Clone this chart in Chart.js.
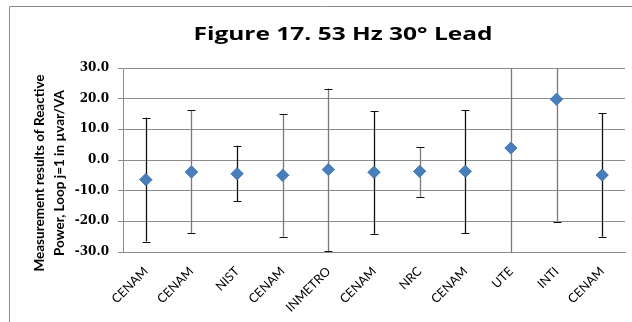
<!DOCTYPE html>
<html>
<head>
<meta charset="utf-8">
<script src="https://cdn.jsdelivr.net/npm/chart.js@4/dist/chart.umd.min.js"></script>
<style>
  html, body { margin: 0; padding: 0; background: #fff; }
  #wrap { width: 632px; height: 322px; position: relative; }
</style>
</head>
<body>
<div id="wrap"><canvas id="c" width="632" height="322"></canvas></div>
<script>
const categories = ['CENAM','CENAM','NIST','CENAM','INMETRO','CENAM','NRC','CENAM','UTE','INTI','CENAM'];
const values     = [-6.4, -3.9, -4.5, -5.0, -3.1, -4.0, -3.7, -3.7, 3.9, 19.8, -4.9];
const upperBound = [13.8, 16.3, 4.7, 14.9, 23.3, 16.0, 4.3, 16.3, 43.9, 59.6, 15.2];
const lowerBound = [-26.6, -23.9, -13.5, -25.0, -29.7, -24.1, -12.0, -23.9, -36.1, -20.1, -25.0];
const yTicks     = [-30, -20, -10, 0, 10, 20, 30];
const titleText  = 'Figure 17. 53 Hz 30° Lead';
const yTitleLines = ['Measurement results of Reactive', 'Power, Loop j=1 in µvar/VA'];

const barLineColors = ['#111','#7a7a7a','#111','#7a7a7a','#7a7a7a','#111','#7a7a7a','#111','#7a7a7a','#7a7a7a','#111'];

const frame = {
  id: 'frame',
  beforeDraw(chart) {
    const ctx = chart.ctx;
    ctx.save();
    ctx.fillStyle = '#fff';
    ctx.fillRect(0, 0, chart.width, chart.height);
    ctx.strokeStyle = '#8c8c8c';
    ctx.lineWidth = 1;
    ctx.beginPath();
    ctx.moveTo(9.5, chart.height);
    ctx.lineTo(9.5, 6.5);
    ctx.lineTo(chart.width, 6.5);
    ctx.stroke();
    ctx.restore();
  },
  afterDraw(chart) {
    const ctx = chart.ctx;
    // title (Calibri-like wide bold)
    ctx.save();
    ctx.fillStyle = '#000';
    ctx.font = 'bold 18px "Open Sans"';
    ctx.textAlign = 'center';
    ctx.textBaseline = 'alphabetic';
    const w = ctx.measureText(titleText).width;
    const sx = 299 / w;
    ctx.translate(343, 40);
    ctx.scale(sx, 1);
    ctx.fillText(titleText, 0, 0);
    ctx.restore();
    // y-axis title, two rotated lines
    ctx.save();
    ctx.fillStyle = '#000';
    ctx.font = 'bold 13.5px Lato';
    ctx.textAlign = 'center';
    ctx.textBaseline = 'middle';
    ctx.translate(0, 173);
    ctx.rotate(-Math.PI / 2);
    ctx.fillText(yTitleLines[0], 0, 40);
    ctx.fillText(yTitleLines[1], 0, 60);
    ctx.restore();
  }
};

const errorBars = {
  id: 'errorBars',
  afterDatasetsDraw(chart) {
    const ctx = chart.ctx;
    const x = chart.scales.x, y = chart.scales.y;
    const a = chart.chartArea;
    ctx.save();
    ctx.beginPath();
    ctx.rect(a.left, a.top, a.right - a.left, a.bottom - a.top + 1);
    ctx.clip();
    for (let i = 0; i < categories.length; i++) {
      const px = Math.round(x.getPixelForValue(i)) + 0.5;
      const yt = y.getPixelForValue(upperBound[i]);
      const yb = y.getPixelForValue(lowerBound[i]);
      ctx.strokeStyle = barLineColors[i];
      ctx.lineWidth = 1.3;
      ctx.beginPath();
      ctx.moveTo(px, yt);
      ctx.lineTo(px, yb);
      ctx.stroke();
      ctx.strokeStyle = '#111';
      ctx.lineWidth = 1.2;
      ctx.beginPath();
      ctx.moveTo(px - 4, Math.round(yt) + 0.5);
      ctx.lineTo(px + 4, Math.round(yt) + 0.5);
      ctx.moveTo(px - 4, Math.round(yb) + 0.5);
      ctx.lineTo(px + 4, Math.round(yb) + 0.5);
      ctx.stroke();
    }
    ctx.restore();
    const meta = chart.getDatasetMeta(0);
    meta.data.forEach(el => el.draw(ctx, a));
  }
};

new Chart(document.getElementById('c'), {
  type: 'line',
  data: {
    labels: categories,
    datasets: [{
      data: values,
      showLine: false,
      pointStyle: 'rectRot',
      pointRadius: 6,
      pointHoverRadius: 6,
      pointBackgroundColor: '#4A7EBB',
      pointBorderColor: '#4A7EBB',
      pointBorderWidth: 1
    }]
  },
  options: {
    responsive: false,
    animation: false,
    events: [],
    layout: { padding: { left: 0, right: 7, top: 68, bottom: 0 } },
    plugins: {
      legend: { display: false },
      tooltip: { enabled: false },
      title: { display: false }
    },
    scales: {
      x: {
        type: 'category',
        offset: true,
        grid: { display: false, drawTicks: false },
        border: { display: true, color: '#8c8c8c', width: 1 },
        ticks: {
          color: '#000',
          font: { family: 'Lato', size: 12.5 },
          minRotation: 45,
          maxRotation: 45,
          padding: 12,
          autoSkip: false
        },
        afterFit(scale) { scale.height = 70; }
      },
      y: {
        min: -30,
        max: 30,
        afterBuildTicks(scale) { scale.ticks = yTicks.map(v => ({ value: v })); },
        grid: { color: '#8c8c8c', lineWidth: 1, tickLength: 5 },
        border: { display: true, color: '#8c8c8c', width: 1 },
        ticks: {
          color: '#000',
          font: { family: 'DejaVu Serif', size: 12, weight: 'bold' },
          padding: 9,
          callback: v => Number(v).toFixed(1)
        },
        afterFit(scale) { scale.width = 123; }
      }
    }
  },
  plugins: [frame, errorBars]
});
</script>
</body>
</html>
